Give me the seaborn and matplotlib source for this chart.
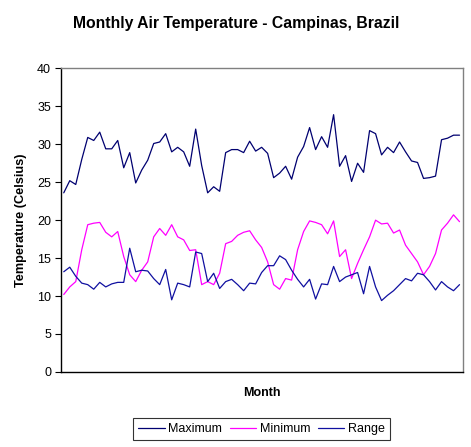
import numpy as np
import pandas as pd
import seaborn as sns
import matplotlib
matplotlib.use("Agg")
import matplotlib.pyplot as plt

maximum = [23.6, 25.2, 24.7, 28.0, 30.9, 30.5, 31.6, 29.4, 29.4, 30.5,
           26.9, 28.9, 24.9, 26.6, 27.9, 30.1, 30.3, 31.4, 29.0, 29.6,
           29.0, 27.1, 32.0, 27.2, 23.6, 24.4, 23.8, 28.9, 29.3, 29.3,
           28.9, 30.4, 29.1, 29.6, 28.8, 25.6, 26.2, 27.1, 25.4, 28.3,
           29.7, 32.2, 29.3, 31.0, 29.6, 33.9, 27.1, 28.5, 25.1, 27.5,
           26.3, 31.8, 31.4, 28.6, 29.6, 28.9, 30.3, 29.0, 27.8, 27.6,
           25.5, 25.6, 25.8, 30.6, 30.8, 31.2, 31.2]
minimum = [10.2, 11.2, 11.9, 16.1, 19.4, 19.6, 19.7, 18.4, 17.8, 18.5,
           15.2, 12.8, 11.9, 13.4, 14.5, 17.8, 18.9, 18.0, 19.4, 17.8,
           17.4, 16.0, 16.1, 11.5, 11.9, 11.5, 13.0, 16.9, 17.2, 18.0,
           18.4, 18.6, 17.4, 16.4, 14.5, 11.5, 10.9, 12.3, 12.1, 16.1,
           18.5, 19.9, 19.7, 19.4, 18.2, 19.9, 15.2, 16.1, 12.3, 14.3,
           16.1, 17.8, 20.0, 19.5, 19.6, 18.3, 18.7, 16.7, 15.6, 14.5,
           12.8, 13.9, 15.6, 18.7, 19.6, 20.7, 19.8]
temp_range = [13.2, 13.8, 12.6, 11.7, 11.5, 10.9, 11.8, 11.2, 11.6, 11.8,
              11.8, 16.3, 13.2, 13.4, 13.3, 12.3, 11.5, 13.5, 9.5, 11.7,
              11.5, 11.2, 15.8, 15.6, 11.9, 13.0, 11.0, 11.9, 12.2, 11.5,
              10.7, 11.7, 11.6, 13.1, 14.0, 14.0, 15.3, 14.8, 13.4, 12.2,
              11.2, 12.2, 9.6, 11.6, 11.5, 13.9, 11.9, 12.5, 12.8, 13.1,
              10.3, 13.9, 11.2, 9.4, 10.1, 10.7, 11.5, 12.3, 12.0, 13.0,
              12.8, 11.9, 10.8, 11.9, 11.2, 10.7, 11.5]
series_names = ["Maximum", "Minimum", "Range"]
y_ticks = [0, 5, 10, 15, 20, 25, 30, 35, 40]

months = np.arange(len(maximum))
df = pd.concat([
    pd.DataFrame({"Month": months, "Temp": vals, "Series": name})
    for name, vals in zip(series_names, [maximum, minimum, temp_range])
])

sns.set_style("white")
plt.rcParams["font.family"] = ["Liberation Sans", "DejaVu Sans"]
plt.rcParams["text.color"] = "black"
plt.rcParams["axes.labelcolor"] = "black"
plt.rcParams["ytick.color"] = "black"
plt.rcParams["xtick.color"] = "black"

fig = plt.figure(figsize=(4.71, 4.47), dpi=100)
ax = fig.add_axes([0.129, 0.168, 0.853, 0.679])

palette = {"Maximum": "#000070", "Minimum": "#FF00FF", "Range": "#1010A0"}
sns.lineplot(data=df, x="Month", y="Temp", hue="Series", palette=palette,
             linewidth=0.9, ax=ax, legend=False)

ax.set_xlim(-0.5, len(maximum) - 0.5)
ax.set_ylim(0, 40)
ax.set_yticks(y_ticks)
ax.set_yticklabels([str(t) for t in y_ticks], fontsize=9)
ax.set_xticks([])
ax.tick_params(axis="y", direction="out", length=4, width=0.8, color="black",
               labelcolor="black", pad=3, left=True)

for side in ["top", "right"]:
    ax.spines[side].set_color("#808080")
    ax.spines[side].set_linewidth(1.0)
for side in ["left", "bottom"]:
    ax.spines[side].set_color("black")
    ax.spines[side].set_linewidth(1.0)

ax.set_xlabel("Month", fontsize=9, fontweight="bold", labelpad=11, color="black")
ax.set_ylabel("Temperature (Celsius)", fontsize=9.2, fontweight="bold", labelpad=7,
              color="black")
fig.text(0.502, 0.948, "Monthly Air Temperature - Campinas, Brazil",
         ha="center", va="center", fontsize=11.3, fontweight="bold", color="black")

handles = [plt.Line2D([], [], color=palette[n], linewidth=0.9) for n in series_names]
leg = fig.legend(handles, series_names, loc="center", bbox_to_anchor=(0.555, 0.04),
                 ncol=3, frameon=True, fancybox=False, fontsize=9,
                 handlelength=2.1, handletextpad=0.3, columnspacing=0.6,
                 borderpad=0.4, edgecolor="black")
leg.get_frame().set_linewidth(0.8)
for t in leg.get_texts():
    t.set_color("black")

fig.savefig("out.png", dpi=100, facecolor="white")
